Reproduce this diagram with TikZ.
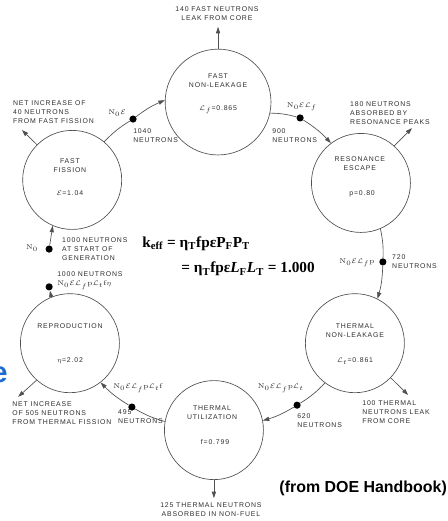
\documentclass[tikz,border=0pt]{standalone}
\usepackage{fontspec}
\usepackage{tikz}
\usetikzlibrary{arrows.meta,positioning,calc}
\newfontfamily\plotfont[LetterSpace=12]{Liberation Sans}
\newfontfamily\capfont{Liberation Sans}
\newfontfamily\keffont{Liberation Serif}
\definecolor{ink}{HTML}{2E2E2E}
\definecolor{wire}{HTML}{505050}
\definecolor{doeBlue}{HTML}{1F6BD1}

\begin{document}
\begin{tikzpicture}[font=\plotfont\fontsize{5.2}{6.8}\selectfont,
  stage/.style={circle,draw=wire,line width=0.5pt,minimum size=2.62cm,inner sep=0pt},
  dot/.style={circle,fill=black,inner sep=0pt,minimum size=1.9mm},
  note/.style={text=ink,inner sep=0pt,align=left},
  flow/.style={wire,line width=0.5pt,-{Triangle[length=1.7mm,width=1.1mm]}},
  wire/.style={draw=wire,line width=0.5pt}]
\useasboundingbox (0,0) rectangle (11.853,-13.785);
% the six stages of the cycle
\node[stage] (ff) at (1.91,-4.76) {};
\node[stage,minimum size=2.8cm] (fnl) at (5.77,-2.70) {};
\node[stage] (re) at (9.55,-4.84) {};
\node[stage] (tnl) at (9.39,-9.08) {};
\node[stage] (tu) at (5.66,-11.38) {};
\node[stage] (rp) at (1.85,-9.08) {};
\node[note,align=center] at (1.85,-4.37) {FAST\\FISSION};
\node[note] at (1.85,-5.11) {$\mathcal{E}$=1.04};
\node[note,align=center] at (5.77,-2.14) {FAST\\NON-LEAKAGE};
\node[note] at (5.77,-2.91) {$\mathcal{L}_f$=0.865};
\node[note,align=center] at (9.52,-4.34) {RESONANCE\\ESCAPE};
\node[note] at (9.58,-5.13) {p=0.80};
\node[note,align=center] at (9.39,-8.76) {THERMAL\\NON-LEAKAGE};
\node[note] at (9.39,-9.55) {$\mathcal{L}_t$=0.861};
\node[note,align=center] at (5.61,-10.93) {THERMAL\\UTILIZATION};
\node[note] at (5.69,-11.69) {f=0.799};
\node[note] at (1.85,-8.63) {REPRODUCTION};
\node[note] at (1.85,-9.55) {$\eta$=2.02};
% neutron counts between the stages
\node[dot] (d0) at (1.30,-6.59) {};
\node[dot] (d1) at (3.52,-3.15) {};
\node[dot] (d2) at (7.94,-3.12) {};
\node[dot] (d3) at (10.13,-6.93) {};
\node[dot] (d4) at (7.86,-10.72) {};
\node[dot] (d5) at (3.49,-10.77) {};
\node[dot] (d6) at (1.30,-7.59) {};
\node[note] at (0.85,-6.56) {$\mathrm{N}_0$};
\node[note,anchor=west] at (1.64,-6.59) {1000 NEUTRONS\\AT START OF\\GENERATION};
\node[note] at (3.10,-2.99) {$\mathrm{N}_0\mathcal{E}$};
\node[note,anchor=west] at (3.52,-3.60) {1040\\NEUTRONS};
\node[note] at (7.99,-2.83) {$\mathrm{N}_0\mathcal{E}\mathcal{L}_f$};
\node[note,anchor=west] at (7.20,-3.60) {900\\NEUTRONS};
\node[note,anchor=east] at (9.92,-6.96) {$\mathrm{N}_0\mathcal{E}\mathcal{L}_f\mathrm{p}$};
\node[note,anchor=west] at (10.37,-6.93) {720\\NEUTRONS};
\node[note] at (7.43,-10.27) {$\mathrm{N}_0\mathcal{E}\mathcal{L}_f\mathrm{p}\mathcal{L}_t$};
\node[note,anchor=west] at (7.86,-11.14) {620\\NEUTRONS};
\node[note] at (3.65,-10.27) {$\mathrm{N}_0\mathcal{E}\mathcal{L}_f\mathrm{p}\mathcal{L}_t\mathrm{f}$};
\node[note,anchor=west] at (3.12,-11.03) {495\\NEUTRONS};
\node[note,anchor=west] at (1.51,-7.43) {1000 NEUTRONS\\$\mathrm{N}_0\mathcal{E}\mathcal{L}_f\mathrm{p}\mathcal{L}_t\mathrm{f}\eta$};
% losses and gains
\coordinate (tfnl) at (5.77,-0.71);
\coordinate (tre) at (10.90,-3.39);
\coordinate (ttnl) at (10.80,-10.45);
\coordinate (ttu) at (5.66,-13.18);
\coordinate (trp) at (0.48,-10.50);
\coordinate (tff) at (0.58,-3.44);
\node[note,align=center] at (5.74,-0.37) {140 FAST NEUTRONS\\LEAK FROM CORE};
\node[note,anchor=west] at (9.26,-2.99) {180 NEUTRONS\\ABSORBED BY\\RESONANCE PEAKS};
\node[note,anchor=west] at (9.58,-10.90) {100 THERMAL\\NEUTRONS LEAK\\FROM CORE};
\node[note,align=center] at (5.58,-13.49) {125 THERMAL NEUTRONS\\ABSORBED IN NON-FUEL};
\node[note,anchor=west] at (0.32,-10.93) {NET INCREASE\\OF 505 NEUTRONS\\FROM THERMAL FISSION};
\node[note,anchor=west] at (0.34,-2.96) {NET INCREASE OF\\40 NEUTRONS\\FROM FAST FISSION};
\draw[flow] (fnl.north) -- (tfnl);
\draw[flow] (re.48) -- (tre);
\draw[flow] (tnl.-44) -- (ttnl);
\draw[flow] (tu.south) -- (ttu);
\draw[flow] (rp.-132) -- (trp);
\draw[flow] (ff.135) -- (tff);
% the cycle
\draw[wire] (ff.50) to[bend left=7] (d1);
\draw[flow] (d1) to[bend left=7] (fnl.178);
\draw[wire] (fnl.-12) to[bend left=7] (d2);
\draw[flow] (d2) to[bend left=7] (re.127);
\draw[wire] (re.-67) to[bend left=7] (d3);
\draw[flow] (d3) to[bend left=7] (tnl.63);
\draw[wire] (tnl.-127) to[bend left=7] (d4);
\draw[flow] (d4) to[bend left=7] (tu.11);
\draw[wire] (tu.170) to[bend left=7] (d5);
\draw[flow] (d5) to[bend left=7] (rp.-52);
\draw[flow] (rp.112) -- (d6);
\draw[flow] (d0) -- (ff.-113);
% multiplication factor
\node[anchor=base west,inner sep=0pt,font=\keffont\bfseries\fontsize{11.5}{14}\selectfont] (keff) at (3.76,-6.54)
  {k\textsubscript{eff} = η\textsubscript{T}fpεP\textsubscript{F}P\textsubscript{T}};
\node[anchor=base west,inner sep=0pt,font=\keffont\bfseries\fontsize{11.5}{14}\selectfont] (keffb) at (4.79,-7.22)
  {= η\textsubscript{T}fpε\textit{L}\textsubscript{F}\textit{L}\textsubscript{T} = 1.000};
\node[anchor=east,inner sep=0pt,font=\capfont\bfseries\fontsize{12}{14}\selectfont] (src) at (11.83,-12.91) {(from DOE Handbook)};
\node[anchor=east,inner sep=0pt,text=doeBlue,font=\capfont\bfseries\fontsize{22}{24}\selectfont] (cut) at (0.21,-9.92) {e};
\end{tikzpicture}
\end{document}
